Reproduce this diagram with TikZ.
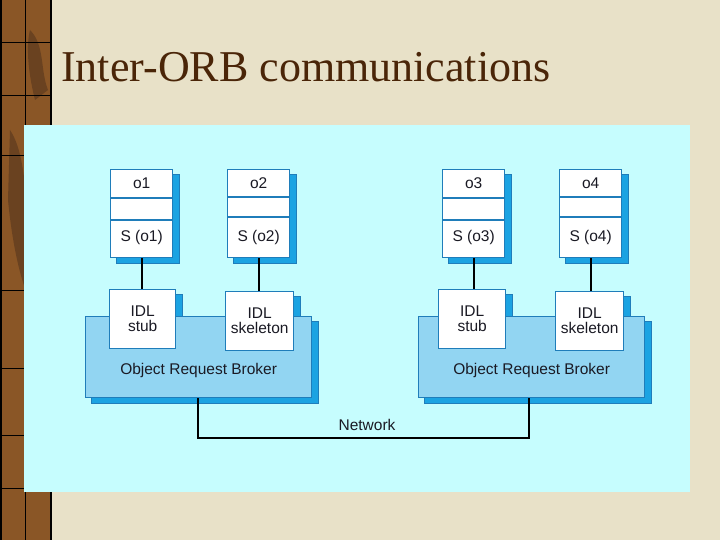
\documentclass[tikz,border=0pt]{standalone}
\usepackage{fontspec}
\setmainfont{Liberation Serif}
\newfontfamily\diagfont{Liberation Sans}
\usetikzlibrary{calc}
\definecolor{parch}{HTML}{E8E1C8}
\definecolor{stripc}{HTML}{8A5626}
\definecolor{stripd}{HTML}{6A4220}
\definecolor{panelc}{HTML}{C6FDFE}
\definecolor{bord}{HTML}{1F7DBA}
\definecolor{shad}{HTML}{1BA3E2}
\definecolor{orbf}{HTML}{92D5F2}
\definecolor{titlec}{HTML}{4A2508}
\definecolor{txt}{HTML}{1A1A24}
\pgfdeclarelayer{back}
\pgfdeclarelayer{shadows}
\pgfsetlayers{back,shadows,main}
\tikzset{
  objbox/.style={draw=bord, line width=1.3pt, fill=white, anchor=north west, inner sep=0pt, minimum width=62pt, minimum height=88pt},
  idlbox/.style={draw=bord, line width=1.3pt, fill=white, anchor=north west, inner sep=0pt, minimum width=#1, minimum height=59pt, align=center, font=\diagfont\fontsize{15.5}{15}\selectfont, text=txt},
  orbbox/.style={draw=bord, line width=1.3pt, fill=orbf, anchor=north west, inner sep=0pt, minimum width=226pt, minimum height=81pt},
  lbl/.style={font=\diagfont\fontsize{15.5}{15}\selectfont, text=txt, inner sep=0pt},
  shadowfill/.style={fill=shad, draw=bord, line width=0.6pt},
  divider/.style={draw=bord, line width=1.3pt},
  wire/.style={draw=black, line width=1.8pt}
}
\newcommand{\boxshadow}[1]{%
  \begin{pgfonlayer}{shadows}
    \path[shadowfill] ($(#1.north west)+(6,5)$) rectangle ($(#1.south east)+(6,5)$);
  \end{pgfonlayer}}
\begin{document}
\begin{tikzpicture}[x=1pt,y=-1pt]
\useasboundingbox (0,0) rectangle (720,540);
\begin{pgfonlayer}{back}
  \fill[parch] (0,0) rectangle (720,540);
  \fill[stripc] (0,0) rectangle (52,540);
  \fill[stripd] (10,130) .. controls (30,160) and (22,220) .. (40,260) -- (40,320) .. controls (20,290) and (12,240) .. (8,200) -- cycle;
  \fill[stripd] (30,30) .. controls (45,45) and (40,70) .. (48,90) -- (35,100) .. controls (30,80) and (25,50) .. cycle;
  \draw[black, line width=2pt] (51,0) -- (51,540);
  \draw[black, line width=1.5pt] (1,0) -- (1,540);
  \draw[black, line width=0.8pt] (25,0) -- (25,540);
  \foreach \yy in {42,95,155,290,368,435,488}
    \draw[black, line width=0.8pt] (1,\yy) -- (51,\yy);
  \fill[panelc] (24,125) rectangle (690,492);
\end{pgfonlayer}

\node[anchor=base west, text=titlec, font=\fontsize{44}{44}\selectfont, inner sep=0pt] (title) at (61,82) {Inter-ORB communications};

% Object boxes
\foreach \nm/\xx/\da/\db in {o1/110/198/220, o2/227/197/217, o3/442/198/220, o4/559/197/217}{
  \node[objbox] (\nm) at (\xx,169) {};
  \boxshadow{\nm}
  \draw[divider] (\xx,\da) -- ++(62,0);
  \draw[divider] (\xx,\db) -- ++(62,0);
}
\foreach \nm in {o1,o2,o3,o4}{
  \node[lbl] (\nm t) at ($(\nm.north)+(0,14)$) {\nm};
  \node[lbl] (\nm s) at ($(\nm.north)+(0,68)$) {S (\nm)};
}

% ORB boxes
\node[orbbox] (orbL) at (85,316) {};
\boxshadow{orbL}
\node[orbbox] (orbR) at (418,316) {};
\boxshadow{orbR}
\node[lbl] (orbLt) at ($(orbL.north)+(0,54)$) {Object Request Broker};
\node[lbl] (orbRt) at ($(orbR.north)+(0,54)$) {Object Request Broker};

% IDL boxes
\node[idlbox=66pt] (stubL) at (109,289) {IDL\\stub};
\node[idlbox=68pt] (skelL) at (225,291) {IDL\\skeleton};
\node[idlbox=67pt] (stubR) at (438,289) {IDL\\stub};
\node[idlbox=68pt] (skelR) at (555,291) {IDL\\skeleton};
\boxshadow{stubL}
\boxshadow{skelL}
\boxshadow{stubR}
\boxshadow{skelR}

% Connectors
\draw[wire] (o1.south) -- (o1.south |- stubL.north);
\draw[wire] (o2.south) -- (o2.south |- skelL.north);
\draw[wire] (o3.south) -- (o3.south |- stubR.north);
\draw[wire] (o4.south) -- (o4.south |- skelR.north);

\coordinate (nl) at (198,438);
\coordinate (nr) at (529,438);
\draw[wire, line width=1.6pt] (orbL.south -| nl) -- (nl) -- (nr) -- (orbR.south -| nr);
\node[lbl] (net) at (367,425) {Network};
\end{tikzpicture}
\end{document}
